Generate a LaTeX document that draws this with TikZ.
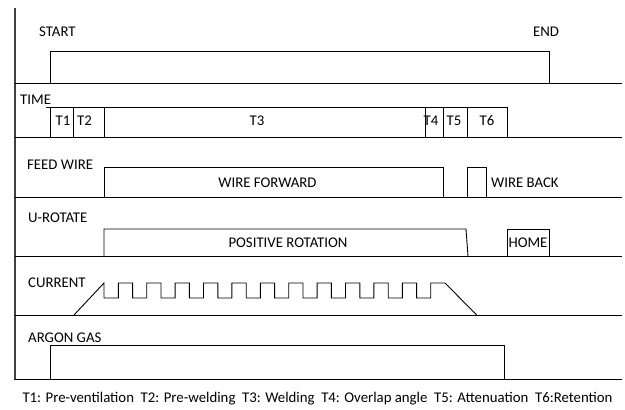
\documentclass[tikz,border=0pt]{standalone}
\usepackage{fontspec}
\setmainfont{Carlito}
\usepackage{tikz}

\begin{document}
\begin{tikzpicture}[x=1pt, y=-1pt,
    lbl/.style={font=\fontsize{14.8}{17}\selectfont, inner sep=0pt},
    sig/.style={line width=0.9pt},
    axis/.style={line width=1.2pt, black!75}
  ]
  \useasboundingbox (0,0) rectangle (625,410);
  % axis
  \draw[axis] (15,8) -- (15,380);

  % Start / End
  \node[lbl, anchor=west] (start) at (39,32) {START};
  \node[lbl, anchor=west] (end) at (533,32) {END};
  \draw[sig] (15,83) -- (622,83);
  \draw[sig] (50,83) -- (50,51) -- (549,51) -- (549,83);

  % Time
  \node[lbl, anchor=west] (time) at (20,100) {TIME};
  \draw[sig] (15,137) -- (622,137);
  \draw[sig] (46,107) -- (507,107) -- (507,137);
  \foreach \x in {50,73,104,425,443,467}
    \draw[sig] (\x,107) -- (\x,137);
  \node[lbl] (t1) at (63,121) {T1};
  \node[lbl] (t2) at (84.5,121) {T2};
  \node[lbl] (t3) at (257,121) {T3};
  \node[lbl] (t4) at (431,121) {T4};
  \node[lbl] (t5) at (454,121) {T5};
  \node[lbl] (t6) at (487,121) {T6};

  % Feed wire
  \node[lbl, anchor=west] (feed) at (27,165) {FEED WIRE};
  \draw[sig] (15,197) -- (622,197);
  \draw[sig] (104,197) -- (104,167) -- (443,167) -- (443,197);
  \draw[sig] (467,197) -- (467,167) -- (486,167) -- (486,197);
  \node[lbl] (fwd) at (267.5,183) {WIRE FORWARD};
  \node[lbl, anchor=west] (back) at (491,183) {WIRE BACK};

  % U-rotate
  \node[lbl, anchor=west] (urot) at (28,218) {U-ROTATE};
  \draw[sig] (15,256) -- (622,256);
  \draw[sig] (104,256) -- (104,229) -- (466,229) -- (468,256);
  \draw[sig] (507,256) -- (507,229) -- (549,229) -- (549,256);
  \node[lbl] (pos) at (288,243) {POSITIVE ROTATION};
  \node[lbl] (home) at (528,243) {HOME};

  % Current
  \node[lbl, anchor=west] (cur) at (28,283) {CURRENT};
  \draw[sig] (15,315) -- (622,315);
  \draw[sig] (74,315) -- (104,283) -- (104,298)
    foreach \k in {0,...,10} {
      -- ({118.3+28.4*\k},298) -- ({118.3+28.4*\k},283)
      -- ({132.6+28.4*\k},283) -- ({132.6+28.4*\k},298)
    }
    -- (430.7,298) -- (430.7,283) -- (445,283) -- (476.7,315);

  % Argon gas
  \node[lbl, anchor=west] (gas) at (28,338) {ARGON GAS};
  \draw[sig] (15,379) -- (622,379);
  \draw[sig] (50.7,379) -- (50.7,345) -- (504.3,345) -- (504.3,379);

  % legend
  \node[lbl] (key) at (317.5,399)
    {T1: Pre-ventilation~ T2: Pre-welding~ T3: Welding~ T4: Overlap angle~ T5: Attenuation~ T6:Retention};
\end{tikzpicture}
\end{document}
